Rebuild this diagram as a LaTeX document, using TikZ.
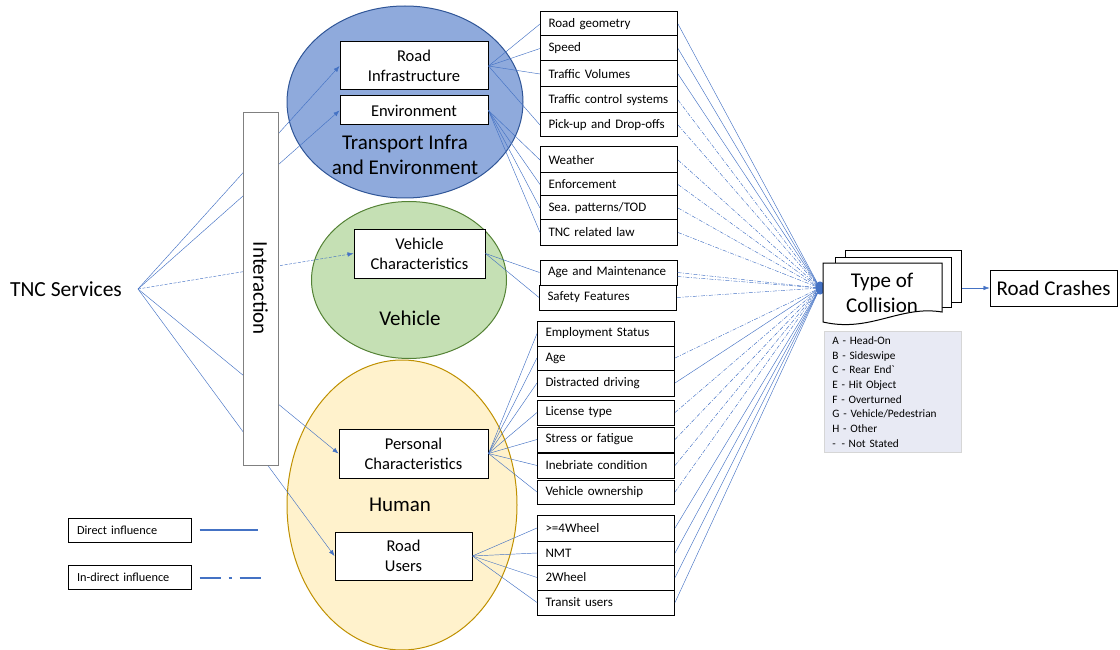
\documentclass[tikz,border=0pt]{standalone}
\usepackage{fontspec}
\setmainfont{Carlito}
\usetikzlibrary{arrows.meta,shapes.geometric}
\definecolor{cblue}{HTML}{4472C4}
\definecolor{ellblue}{HTML}{8FAADC}
\definecolor{ellbluedraw}{HTML}{2F5597}
\definecolor{ellgreen}{HTML}{C5E0B4}
\definecolor{ellgreendraw}{HTML}{548235}
\definecolor{ellyellow}{HTML}{FFF2CC}
\definecolor{ellyellowdraw}{HTML}{BF9000}
\definecolor{legfill}{HTML}{E8EAF4}
\definecolor{legdraw}{HTML}{D6D6D6}
\frenchspacing
\begin{document}
\begin{tikzpicture}[x=1pt,y=-1pt,
  conn/.style={draw=cblue, line width=0.45pt},
  indirect/.style={conn, dash pattern=on 4pt off 1.5pt on 1pt off 1.5pt},
  arr/.style={conn, -{Latex[length=6pt,width=4.5pt]}},
  rbox/.style={draw=black, line width=1pt, fill=white, inner xsep=8pt, inner ysep=0pt,
    text width=121pt, minimum height=#1, align=left, font=\fontsize{13}{14}\selectfont},
  ibox/.style={draw=black, line width=1pt, fill=white, inner sep=0pt, align=center,
    font=\fontsize{16.5}{20}\selectfont},
  bigtext/.style={font=\fontsize{21}{25}\selectfont, align=center, inner sep=0pt},
  ell/.style={ellipse, inner sep=0pt, line width=1pt},
  lbox/.style={draw=black, line width=1pt, fill=white, inner xsep=9pt, inner ysep=0pt,
    text width=105pt, minimum height=24pt, align=left, font=\fontsize{12.3}{13}\selectfont},
  page/.style={draw=black, line width=1pt, fill=white}
]
\useasboundingbox (0,0) rectangle (1120,650);

% ellipses
\node[ell, fill=ellblue, draw=ellbluedraw, minimum width=236pt, minimum height=192pt] (eT) at (405,102) {};
\node[ell, fill=ellgreen, draw=ellgreendraw, minimum width=195pt, minimum height=157pt] (eV) at (409,280) {};
\node[ell, fill=ellyellow, draw=ellyellowdraw, minimum width=230pt, minimum height=290pt] (eH) at (402,505) {};

\node[bigtext] (tT) at (405,155) {Transport Infra\\and Environment};
\node[bigtext] (tV) at (410,318) {Vehicle};
\node[bigtext] (tH) at (400,505) {Human};

% inner boxes
\node[ibox, minimum width=148pt, minimum height=48pt] (ri) at (414,66) {Road\\Infrastructure};
\node[ibox, minimum width=148pt, minimum height=29pt] (en) at (414,110.5) {Environment};
\node[ibox, minimum width=131pt, minimum height=49pt] (vc) at (419.5,253.5) {Vehicle\\Characteristics};
\node[ibox, minimum width=149pt, minimum height=49pt] (pc) at (413.5,453.5) {Personal\\Characteristics};
\node[ibox, minimum width=137pt, minimum height=48pt] (ru) at (403.5,556) {Road\\Users};

% right boxes
\node[rbox=24pt] (rg) at (609,24) {Road geometry};
\node[rbox=25pt] (sp) at (609,48.5) {Speed};
\node[rbox=26pt] (tv) at (609,74) {Traffic Volumes};
\node[rbox=26pt] (tc) at (609,100) {Traffic control systems};
\node[rbox=24pt] (pu) at (609,125) {Pick-up and Drop-offs};
\node[rbox=26pt] (we) at (609,160) {Weather};
\node[rbox=23pt] (ef) at (609,184.5) {Enforcement};
\node[rbox=24pt] (se) at (609,208) {Sea.\ patterns/TOD};
\node[rbox=25pt] (tl) at (609,232.5) {TNC related law};
\node[rbox=25pt] (am) at (608.5,272.5) {Age and Maintenance};
\node[rbox=25pt] (sf) at (608,297.5) {Safety Features};
\node[rbox=25pt] (es) at (606,333.5) {Employment Status};
\node[rbox=24pt] (ag) at (606,358) {Age};
\node[rbox=26pt] (dd) at (606,383) {Distracted driving};
\node[rbox=25pt] (lt) at (606,412.5) {License type};
\node[rbox=25pt] (sf2) at (606,439.5) {Stress or fatigue};
\node[rbox=25pt] (ic) at (606,465.5) {Inebriate condition};
\node[rbox=24pt] (vo) at (606,492) {Vehicle ownership};
\node[rbox=26pt] (fw) at (606,528) {>=4Wheel};
\node[rbox=24pt] (nm) at (606,553) {NMT};
\node[rbox=25pt] (tw) at (606,577.5) {2Wheel};
\node[rbox=25pt] (tu) at (606,602.5) {Transit users};

% connectors from inner boxes to factor boxes
\foreach \t in {rg,sp,tv,pu} \draw[conn] (ri.east) -- (\t.west);
\foreach \t in {we,ef,se,tl} \draw[conn] (en.east) -- (\t.west);
\foreach \t in {am,sf} \draw[conn] (vc.east) -- (\t.west);
\foreach \t in {es,ag,dd,lt,sf2,ic,vo} \draw[conn] (pc.east) -- (\t.west);
\foreach \t in {fw,nm,tw,tu} \draw[conn] (ru.east) -- (\t.west);

% convergence point
\coordinate (cp) at (820,288);
\foreach \t in {rg,sp,tv,dd,fw,nm,tw,tu} \draw[conn] (\t.east) -- (cp);
\foreach \t in {tc,pu,we,ef,se,tl,am,sf,ag,lt,sf2,ic,vo} \draw[indirect] (\t.east) -- (cp);
\draw[indirect] ([yshift=-4pt]am.east) -- (cp);

% TNC services and fan
\node[inner sep=0pt, font=\fontsize{21.5}{25}\selectfont] (tnc) at (66,289) {TNC Services};
\coordinate (fan) at (138,289);
\draw[arr] (fan) -- (ri.west);
\draw[arr] (fan) -- (en.west);
\draw[arr, dash pattern=on 3pt off 1.5pt] (fan) -- (vc.west);
\draw[arr] (fan) -- (pc.west);
\draw[arr] (fan) -- (ru.west);

% interaction box
\node[draw=gray, line width=0.8pt, fill=white, rotate=-90, minimum width=353pt, minimum height=35pt,
  inner sep=0pt, font=\fontsize{21}{25}\selectfont] (inter) at (260.5,288.5) {Interaction};

% dot
\node[ellipse, fill=cblue, inner sep=0pt, minimum width=9pt, minimum height=13pt] (dot) at (cp) {};

% document stack
\node[page, minimum width=116pt, minimum height=52pt, inner sep=0pt] (bp) at (903,276) {};
\node[page, minimum width=116pt, minimum height=50pt, inner sep=0pt] (mp) at (893,282) {};
\filldraw[page] (823,263) -- (942,263) -- (942,312) .. controls (900,305) and (870,333) .. (823,322) -- cycle;
\node[bigtext] (toc) at (882,293) {Type of\\Collision};

% road crashes
\node[draw=black, line width=1pt, minimum width=127pt, minimum height=36pt, inner sep=0pt,
  font=\fontsize{21}{25}\selectfont] (rc) at (1053.5,288) {Road Crashes};
\draw[arr] (bp.east |- rc.west) -- (rc.west);

% collision legend
\node[draw=legdraw, fill=legfill, line width=0.8pt, anchor=north west, minimum width=137pt,
  minimum height=121pt, text width=121pt, inner xsep=8pt, inner ysep=4pt, align=left,
  font=\fontsize{11.3}{14.7}\selectfont] (cl) at (824,331)
  {A - Head-On\\B - Sideswipe\\C - Rear End\textasciigrave\\E - Hit Object\\F - Overturned\\G - Vehicle/Pedestrian\\H - Other\\- \,- Not Stated};

% influence legend
\node[lbox, minimum width=123pt] (ld) at (129.5,530) {Direct influence};
\node[lbox, minimum width=123pt] (li) at (129.5,577) {In-direct influence};
\coordinate (ldend) at (258,530);
\coordinate (liend) at (261,578);
\draw[cblue, line width=2.3pt] ([xshift=8pt]ld.east) -- (ldend);
\draw[cblue, line width=2.3pt, dash pattern=on 21pt off 8pt on 3pt off 8pt] ([xshift=8pt,yshift=-1pt]li.east) -- (liend);
\end{tikzpicture}
\end{document}
